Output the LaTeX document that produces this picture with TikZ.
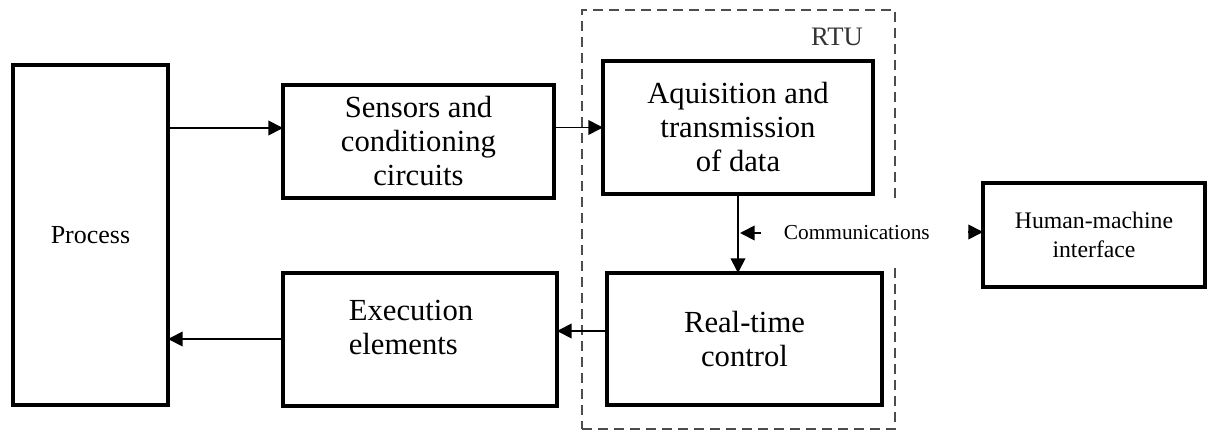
\documentclass[tikz,border=0pt]{standalone}
\usepackage{fontspec}
\setmainfont{Liberation Serif}
\usetikzlibrary{arrows.meta}
\begin{document}
\begin{tikzpicture}[x=0.75pt,y=-0.75pt,
  box/.style 2 args={draw, line width=3pt, minimum width={#1*0.75pt}, minimum height={#2*0.75pt}, inner sep=0pt, outer sep=0pt, align=center, font=\fontsize{23}{25.5}\selectfont},
  arr/.style={line width=1.3pt, -{Triangle[length=11pt,width=11pt]}},
  rtubox/.style={draw=black!70, line width=1.5pt, dash pattern=on 7.5pt off 4.5pt, minimum width={313*0.75pt}, minimum height={419*0.75pt}, inner sep=0pt, outer sep=0pt}
]
\useasboundingbox (0,0) rectangle (1208,432);
% RTU dashed frame
\node[rtubox] (rtu) at (738.5,219.5) {};
\node[font=\fontsize{20}{22}\selectfont, text=black!80] (rtulabel) at (837,37) {RTU};
% boxes
\node[box={155}{340}, font=\fontsize{19.5}{22}\selectfont] (proc) at (90.5,235) {Process};
\node[box={271}{113}] (sens) at (418.5,141.5) {Sensors and\\conditioning\\circuits};
\node[box={270}{133}] (acq) at (738,127.5) {Aquisition and\\transmission\\of data};
\node[box={275}{132}] (rtc) at (744.5,339) {Real-time\\control};
\node[box={274}{133}] (exe) at (420,339.5) {};
\node[align=left, inner sep=0pt, font=\fontsize{23}{25.5}\selectfont] (exetext) at (411,327) {Execution\\elements};
\node[box={222}{104}, font=\fontsize{17.8}{22}\selectfont] (hmi) at (1094,235) {Human-machine\\interface};
\node[anchor=west, fill=white, inner xsep=2pt, inner ysep=0pt, minimum height=46pt, font=\fontsize{16}{18}\selectfont] (comm) at (781,233) {Communications};
% connectors
\coordinate (y1) at (0,128);
\draw[arr] (proc.east |- y1) -- (sens.west |- y1);
\draw[arr] (sens.east |- acq.west) -- (acq.west);
\draw[arr] (acq.south) -- (acq.south |- rtc.north);
\coordinate (c1) at (761,233);
\coordinate (c2) at (740,233);
\draw[arr] (c1) -- (c2);
\coordinate (h1) at (968,232);
\draw[arr] (h1) -- (hmi.west |- h1);
\coordinate (y2) at (0,331);
\draw[arr] (rtc.west |- y2) -- (exe.east |- y2);
\coordinate (y3) at (0,339);
\draw[arr] (exe.west |- y3) -- (proc.east |- y3);
\end{tikzpicture}
\end{document}
